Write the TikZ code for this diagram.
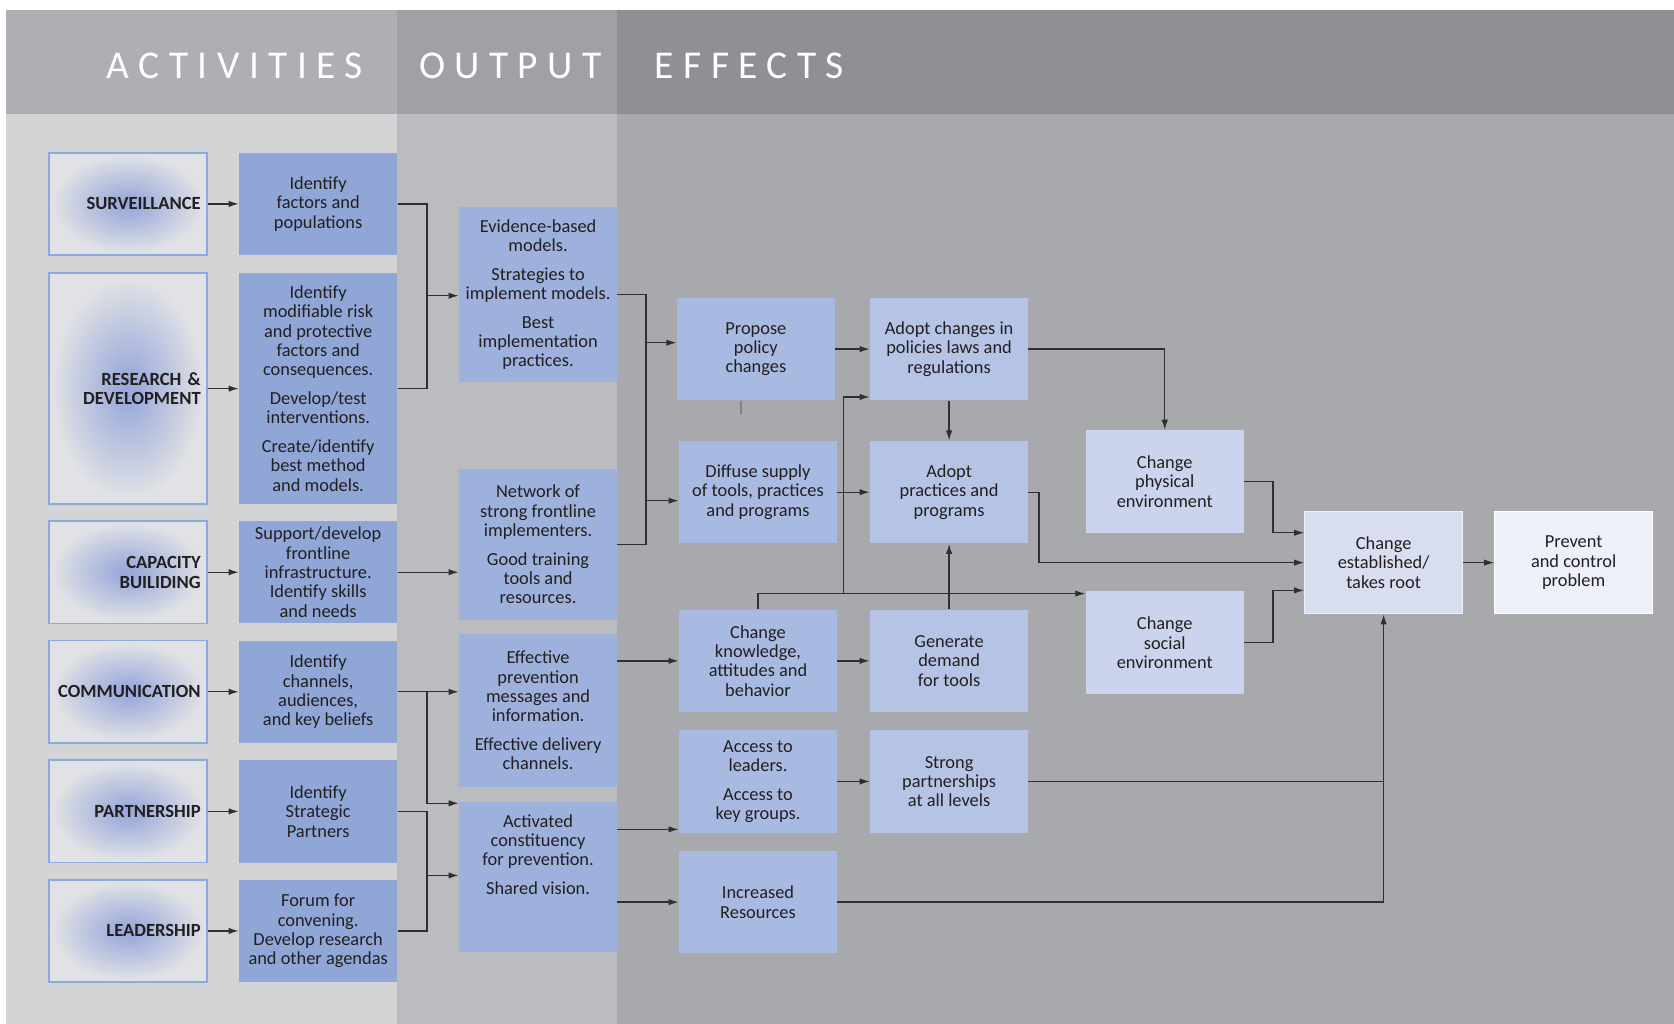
\documentclass[tikz,border=0pt]{standalone}
\usepackage{fontspec}
\setmainfont{Carlito}
\usetikzlibrary{positioning,arrows.meta}

\definecolor{hdrA}{HTML}{AEAFB3}
\definecolor{hdrB}{HTML}{A0A1A5}
\definecolor{hdrC}{HTML}{8F9094}
\definecolor{bgA}{HTML}{D3D4D6}
\definecolor{bgB}{HTML}{BBBCC0}
\definecolor{bgC}{HTML}{A8A9AD}
\definecolor{actouter}{HTML}{E1E2E5}
\definecolor{actcenter}{HTML}{98A8DA}
\definecolor{actborder}{HTML}{8FA8DC}
\definecolor{blueA}{HTML}{8FA6D6}
\definecolor{blueB}{HTML}{9DB1DC}
\definecolor{blueC}{HTML}{A8BAE1}
\definecolor{blueD}{HTML}{B5C4E5}
\definecolor{blueE}{HTML}{CBD4EC}
\definecolor{blueF}{HTML}{D8DDF0}
\definecolor{blueG}{HTML}{EDF0F8}
\definecolor{txt}{HTML}{231F20}
\definecolor{wire}{HTML}{2F2F31}

\pgfdeclareradialshading{actglow}{\pgfpoint{0bp}{0bp}}{%
  color(0bp)=(actcenter); color(4bp)=(actcenter!90!actouter);
  color(13bp)=(actcenter!50!actouter);
  color(24bp)=(actouter); color(50bp)=(actouter)}

\tikzstyle{box}=[rectangle, inner sep=1pt, align=center, text=txt, font=\fontsize{9.8}{10.3}\selectfont, minimum width=2.96cm, minimum height=1.92cm]
\tikzstyle{actbox}=[rectangle, draw=actborder, line width=0.9pt, shading=actglow, minimum width=2.96cm, minimum height=1.92cm, inner xsep=0.12cm, text width=2.72cm, align=right, text=txt, font=\bfseries\fontsize{9.9}{10.6}\selectfont]
\tikzstyle{idbox}=[box, fill=blueA]
\tikzstyle{outbox}=[box, fill=blueB]
\tikzstyle{effbox}=[box, fill=blueC]
\tikzstyle{adoptbox}=[box, fill=blueD]
\tikzstyle{envbox}=[box, fill=blueE]
\tikzstyle{hdr}=[text=white, inner sep=0pt, font=\fontsize{21}{21}\selectfont\addfontfeatures{LetterSpace=24}]
\tikzstyle{link}=[draw=wire, line width=0.7pt]
\tikzstyle{arr}=[link, ->]

\begin{document}
\begin{tikzpicture}[%
    x=0.02cm, y=-0.02cm,
    >={Latex[length=1.9mm,width=1.2mm]}
  ]
      \useasboundingbox (0,0) rectangle (1568,959);
      %Columns
      \fill[white] (0,0) rectangle (1568,959);
      \fill[hdrA] (6,9) rectangle (372,107);
      \fill[hdrB] (372,9) rectangle (578,107);
      \fill[hdrC] (578,9) rectangle (1568,107);
      \fill[bgA] (6,107) rectangle (372,959);
      \fill[bgB] (372,107) rectangle (578,959);
      \fill[bgC] (578,107) rectangle (1568,959);
      \node[hdr] (hAct) at (220,62) {ACTIVITIES};
      \node[hdr] (hOut) at (478,62) {OUTPUT};
      \node[hdr] (hEff) at (702,62) {EFFECTS};

      %Activities
      \node[actbox] (surv) at (120,191) {SURVEILLANCE};
      \node[actbox, minimum height=4.32cm] (rd) at (120,364) {RESEARCH \&\\DEVELOPMENT};
      \node[actbox] (cap) at (120,536) {CAPACITY\\BUILIDING};
      \node[actbox] (comm) at (120,648) {COMMUNICATION};
      \node[actbox] (part) at (120,760) {PARTNERSHIP};
      \node[actbox] (lead) at (120,872) {LEADERSHIP};

      \node[idbox] (fac) at (298,191) {Identify\\factors and\\populations};
      \node[idbox, minimum height=4.32cm] (mod) at (298,364) {Identify\\modifiable risk\\and protective\\factors and\\consequences.\\[5pt]Develop/test\\interventions.\\[5pt]Create/identify\\best method\\and models.};
      \node[idbox] (sup) at (298,536) {Support/develop\\frontline\\infrastructure.\\Identify skills\\and needs};
      \node[idbox] (chan) at (298,648) {Identify\\channels,\\audiences,\\and key beliefs};
      \node[idbox] (ptnr) at (298,760) {Identify\\Strategic\\Partners};
      \node[idbox] (forum) at (298,872) {Forum for\\convening.\\Develop research\\and other agendas};

      %Output
      \node[outbox, minimum height=3.28cm] (evid) at (504,276) {Evidence-based\\models.\\[5pt]Strategies to\\implement models.\\[5pt]Best\\implementation\\practices.};
      \node[outbox, minimum height=2.84cm] (netw) at (504,510) {Network of\\strong frontline\\implementers.\\[5pt]Good training\\tools and\\resources.};
      \node[outbox, minimum height=2.86cm] (effp) at (504,665.5) {Effective\\prevention\\messages and\\information.\\[5pt]Effective delivery\\channels.};
      \node[outbox, minimum height=2.82cm] (activ) at (504,821.5) {};
      \node[box, minimum height=0pt, below=0.2cm of activ.north] (activT) {Activated\\constituency\\for prevention.\\[5pt]Shared vision.};

      %Effects
      \node[effbox] (propose) at (708,327) {Propose\\policy\\changes};
      \node[effbox] (diffuse) at (710,461) {Diffuse supply\\of tools, practices\\and programs};
      \node[effbox] (know) at (710,619) {Change\\knowledge,\\attitudes and\\behavior};
      \node[effbox] (access) at (710,732) {Access to\\leaders.\\[5pt]Access to\\key groups.};
      \node[effbox] (incr) at (710,845) {Increased\\Resources};
      \node[adoptbox] (adoptpol) at (889,327) {Adopt changes in\\policies laws and\\regulations};
      \node[adoptbox] (adoptprac) at (889,461) {Adopt\\practices and\\programs};
      \node[adoptbox] (gen) at (889,619) {Generate\\demand\\for tools};
      \node[adoptbox] (strong) at (889,732) {Strong\\partnerships\\at all levels};
      \node[envbox] (physical) at (1091,451) {Change\\physical\\environment};
      \node[envbox] (social) at (1091,602) {Change\\social\\environment};
      \node[box, fill=blueF, draw=blueG, line width=0.4pt] (estab) at (1296,527) {Change\\established/\\takes root};
      \node[box, fill=blueG, draw=white, line width=0.4pt] (prevent) at (1474,527) {Prevent\\and control\\problem};

      %Junctions
      \coordinate (jA) at (400,277);
      \coordinate (jB) at (400,648);
      \coordinate (jC) at (400,820);
      \coordinate (jD) at (605,321);
      \coordinate (jE) at (605,469);
      \coordinate (jF) at (790,556);

      %Activities to their first step
      \draw[arr] (surv) -- (fac);
      \draw[arr] (rd) -- (mod);
      \draw[arr] (cap) -- (sup);
      \draw[arr] (comm) -- (chan);
      \draw[arr] (part) -- (ptnr);
      \draw[arr] (lead) -- (forum);

      %To output
      \draw[link] (fac.east) -| (jA) |- (mod.east);
      \draw[arr] (jA) -- (jA -| evid.west);
      \draw[arr] (sup.east) -- (sup.east -| netw.west);
      \draw[arr] (chan.east) -- (chan.east -| effp.west);
      \draw[arr] (jB) |- ([yshift=-1pt]activ.north west);
      \draw[link] (ptnr.east) -| (jC) |- (forum.east);
      \draw[arr] (jC) -- (jC -| activ.west);

      %To effects
      \draw[link] (evid.east) -| (jE) |- (netw.east);
      \draw[arr] (jD) -- (jD -| propose.west);
      \draw[arr] (jE) -- (jE -| diffuse.west);
      \draw[link, draw=wire!60] ([xshift=-0.28cm]propose.south) -- ++(0,12);
      \draw[arr] (know.west -| effp.east) -- (know.west);
      \draw[arr] ([yshift=2pt]access.south west -| activ.east) -- ([yshift=2pt]access.south west);
      \draw[arr] (incr.west -| activ.east) -- (incr.west);

      \draw[arr] (propose) -- (adoptpol);
      \draw[arr] (diffuse) -- (adoptprac);
      \draw[arr] (know) -- (gen);
      \draw[arr] (access) -- (strong);
      \draw[link] (know.north) |- (jF);
      \draw[arr] (jF) |- ([yshift=2pt]adoptpol.south west);
      \draw[arr] (jF) -- (jF -| social.west);
      \draw[arr] (adoptpol) -- (adoptprac);
      \draw[arr] (gen) -- (adoptprac);

      \draw[arr] (adoptpol.east) -| (physical.north);
      \draw[arr] (adoptprac.east) -- ++(10,0) |- (estab.west);
      \draw[arr] (physical.east) -- ++(27,0) |- ([yshift=0.56cm]estab.west);
      \draw[arr] (social.east) -- ++(27,0) |- ([yshift=-0.52cm]estab.west);
      \draw[link] (strong.east) -- (strong.east -| estab.south);
      \draw[arr] (incr.east) -| (estab.south);
      \draw[arr] (estab) -- (prevent);
\end{tikzpicture}
\end{document}
